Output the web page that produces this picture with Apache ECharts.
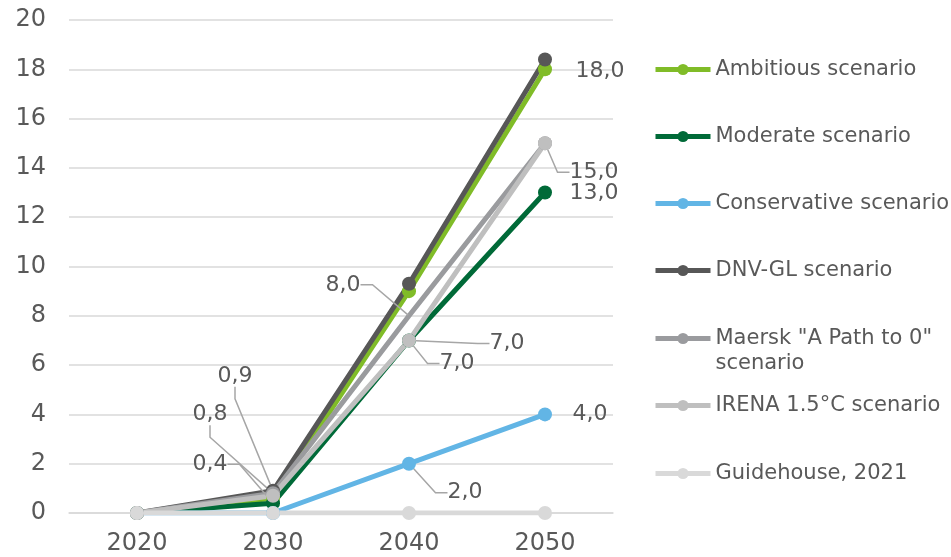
<!DOCTYPE html>
<html>
<head>
<meta charset="utf-8">
<script src="https://cdn.jsdelivr.net/npm/echarts@6/dist/echarts.min.js"></script>
<style>html,body{margin:0;padding:0;background:#fff}#c{width:951px;height:557px}</style>
</head>
<body>
<div id="c"></div>
<script>
// ---- data ----
const years = ['2020', '2030', '2040', '2050'];
const ambitious    = [0, 0.6, 9.0, 18.0];
const moderate     = [0, 0.4, 7.0, 13.0];
const conservative = [0, 0, 2.0, 4.0];
const dnvgl        = [0, 0.9, 9.3, 18.4];
const maersk       = [0, 0.8, 8.0, 15.0];
const irena        = [0, 0.7, 7.0, 15.0];
const guidehouse   = [0, 0, 0, 0];
const yTicks = [0, 2, 4, 6, 8, 10, 12, 14, 16, 18, 20];

const seriesNames = ['Ambitious scenario', 'Moderate scenario', 'Conservative scenario', 'DNV-GL scenario',
  'Maersk "A Path to 0" scenario', 'IRENA 1.5°C scenario', 'Guidehouse, 2021'];
const seriesValues = [ambitious, moderate, conservative, dnvgl, maersk, irena, guidehouse];
const colors = ['#80bc28', '#006a38', '#62b5e5', '#575757', '#9a9b9e', '#bfbfbf', '#d9d9d9'];

// label placement (offsets in px from the point), leader line flag
const labelSpecs = [
  {3: [55, 2, false]},
  {1: [-63, -39, true], 2: [98, 3, true], 3: [49, 1, false]},
  {2: [56, 29, true], 3: [45, 0, false]},
  {1: [-38, -115, true]},
  {1: [-63, -79, true], 2: [-66, -31, true]},
  {2: [48, 23, true], 3: [49, 29, true]},
  {}
];
const hiddenSymbols = [[], [], [], [], [2], [], []];

const fmt = v => v.toFixed(1).replace('.', ',');
const textColor = '#595959';
const font = 'DejaVu Sans';

const series = seriesNames.map((name, si) => {
  const spec = labelSpecs[si];
  return {
    name, type: 'line',
    data: seriesValues[si].map((v, i) => {
      const item = {value: v};
      if (spec[i]) {
        item.label = {show: true};
        item.labelLine = {show: spec[i][2]};
      }
      return item;
    }),
    symbol: 'circle',
    symbolSize: (val, p) => hiddenSymbols[si].includes(p.dataIndex) ? 2 : 14,
    showAllSymbol: true,
    lineStyle: {width: 5, color: colors[si]},
    itemStyle: {color: colors[si]},
    label: {show: false, position: 'inside', formatter: p => fmt(p.value),
      color: textColor, fontFamily: font, fontSize: 22},
    labelLine: {show: false, length2: 12, lineStyle: {color: '#a6a6a6', width: 1.5}},
    labelLayout: p => {
      const s = spec[p.dataIndex];
      return s ? {dx: s[0], dy: s[1]} : {};
    },
    emphasis: {disabled: true},
    animation: false
  };
});

const legendTops = [57, 124, 191, 258, 301, 393, 461];
const legends = seriesNames.map((name, i) => ({
  data: [name], left: 653, top: legendTops[i], padding: 0,
  itemWidth: 55, itemHeight: 14, selectedMode: false,
  lineStyle: {width: 5},
  textStyle: {color: textColor, fontFamily: font, fontSize: 21, lineHeight: 25},
  formatter: i === 4 ? () => '\nMaersk "A Path to 0"\nscenario' : undefined
}));

const chart = echarts.init(document.getElementById('c'));
chart.setOption({
  animation: false,
  grid: {left: 69, right: 338, top: 20, bottom: 44, containLabel: false},
  xAxis: {type: 'category', data: years, boundaryGap: true,
    axisLine: {show: true, lineStyle: {color: '#d9d9d9', width: 1.5}},
    axisTick: {show: false},
    axisLabel: {color: textColor, fontFamily: font, fontSize: 24, margin: 19}},
  yAxis: {type: 'value', min: yTicks[0], max: yTicks[yTicks.length - 1], interval: yTicks[1] - yTicks[0],
    axisLine: {show: false}, axisTick: {show: false},
    splitLine: {lineStyle: {color: '#d9d9d9', width: 1.5}},
    axisLabel: {color: textColor, fontFamily: font, fontSize: 24, margin: 23}},
  legend: legends,
  series
});
</script>
</body>
</html>
